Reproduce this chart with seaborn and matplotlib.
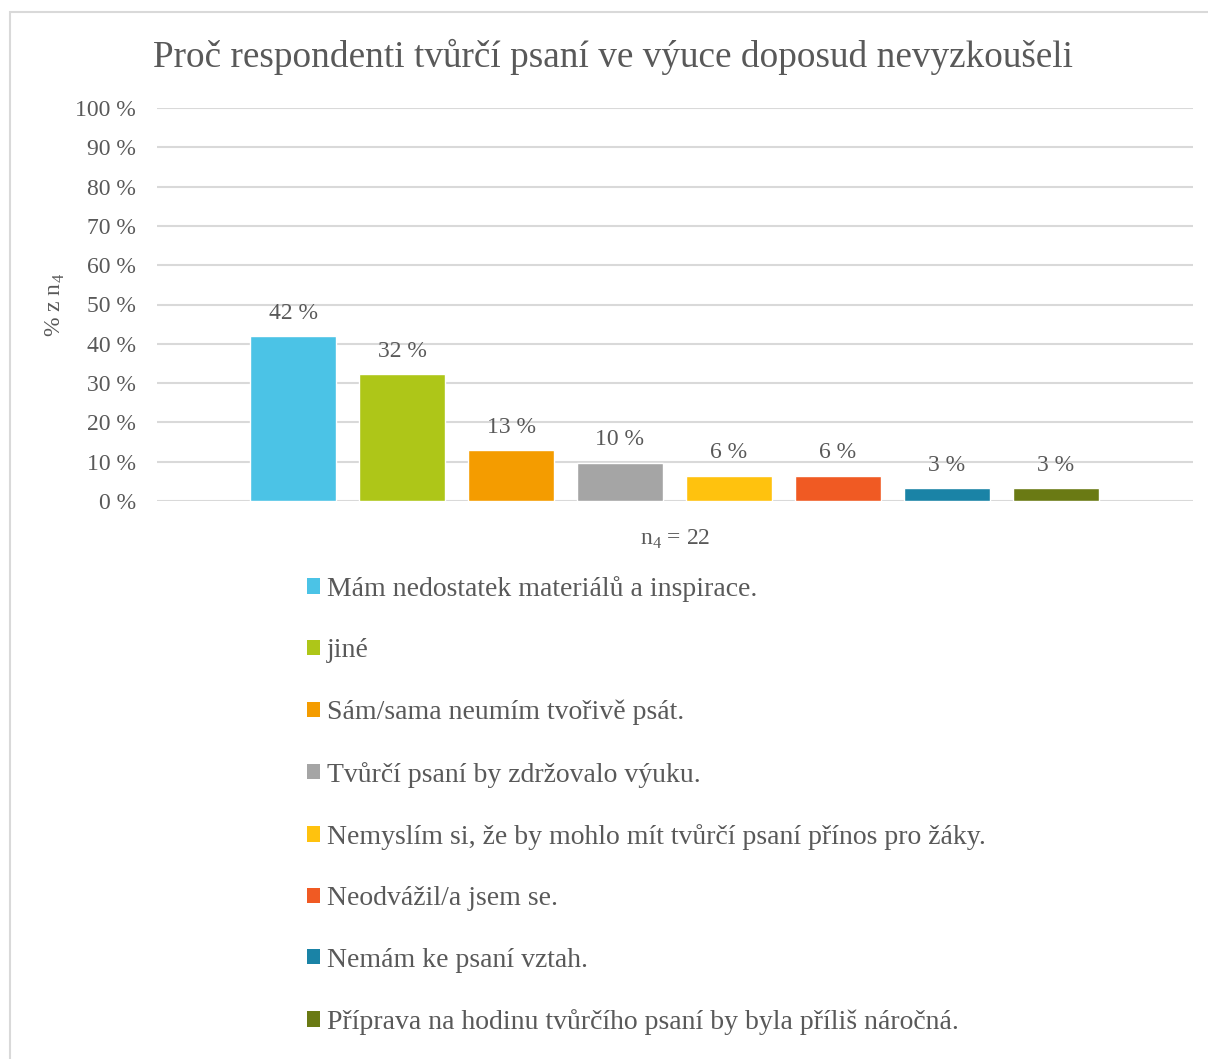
import matplotlib
matplotlib.use("Agg")
import matplotlib.pyplot as plt
import matplotlib.patches as mpatches
import seaborn as sns
import pandas as pd

sns.set_theme(style="white")
plt.rcParams['font.family'] = ['Liberation Serif', 'DejaVu Serif']
plt.rcParams['mathtext.fontset'] = 'custom'
plt.rcParams['mathtext.rm'] = 'Liberation Serif'

reasons = [
    "Mám nedostatek materiálů a inspirace.",
    "jiné",
    "Sám/sama neumím tvořivě psát.",
    "Tvůrčí psaní by zdržovalo výuku.",
    "Nemyslím si, že by mohlo mít tvůrčí psaní přínos pro žáky.",
    "Neodvážil/a jsem se.",
    "Nemám ke psaní vztah.",
    "Příprava na hodinu tvůrčího psaní by byla příliš náročná.",
]
percent = [41.9, 32.3, 12.9, 9.7, 6.4, 6.4, 3.2, 3.2]
colors = ["#4BC3E6", "#AEC618", "#F49C00", "#A5A5A5",
          "#FFC20E", "#F05A23", "#1A83A6", "#6A7A14"]
yticks = [0, 10, 20, 30, 40, 50, 60, 70, 80, 90, 100]

txt = "#595959"
df = pd.DataFrame({"reason": reasons, "pct": percent})

fig = plt.figure(figsize=(12.08, 10.59), dpi=100)
# chart border
fig.patches.append(mpatches.Rectangle((10 / 1208, -0.1), 1.2, 1 - 12 / 1059 + 0.1,
                                      transform=fig.transFigure, fill=False,
                                      edgecolor="#D9D9D9", linewidth=1.5))
ax = fig.add_axes([157 / 1208, 1 - 501 / 1059, 1036 / 1208, 393 / 1059])

sns.barplot(data=df, x="reason", y="pct", hue="reason", palette=colors,
            saturation=1, width=0.79, legend=False, ax=ax,
            order=reasons, hue_order=reasons)

for c in ax.containers:
    ax.bar_label(c, labels=[f"{v:.0f} %" for v in c.datavalues],
                 padding=9, fontsize=17, color=txt)

ax.set_ylim(0, 100)
ax.set_xlim(-1.25, 8.26)
ax.set_yticks(yticks)
ax.set_yticklabels([f"{t} %" for t in yticks], fontsize=17, color=txt)
ax.set_xticks([])
ax.yaxis.grid(True, color="#D9D9D9", linewidth=1.5)
ax.set_axisbelow(True)
ax.tick_params(axis="y", length=0, pad=15)
sns.despine(ax=ax, left=True, bottom=True)
ax.set_ylabel("% z n$_\\mathregular{4}$", fontsize=17, color=txt, labelpad=6)
ax.set_xlabel("n$_\\mathregular{4}$ = 22", fontsize=17, color=txt, labelpad=19)

fig.text(613 / 1208, 1 - 57 / 1059, "Proč respondenti tvůrčí psaní ve výuce doposud nevyzkoušeli",
         ha="center", va="center", fontsize=26.8, color=txt)

handles = [mpatches.Patch(facecolor=col, edgecolor="none") for col in colors]
fig.legend(handles, reasons, loc="upper left", bbox_to_anchor=(282 / 1208, 1 - 551 / 1059),
           frameon=False, fontsize=20, labelcolor=txt, handlelength=0.47, handleheight=0.47,
           handletextpad=0.25, labelspacing=1.31)

fig.savefig("out.png", dpi=100)
